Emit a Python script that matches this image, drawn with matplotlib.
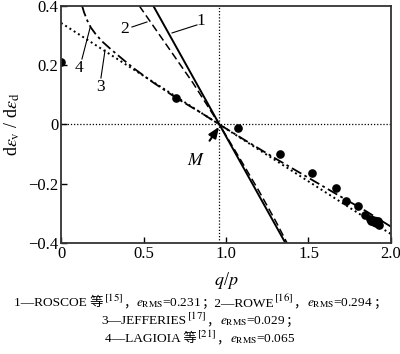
import matplotlib
matplotlib.use("Agg")
import matplotlib.pyplot as plt
from matplotlib.offsetbox import TextArea, HPacker, AnchoredOffsetbox

plt.rcParams['font.family'] = ['Liberation Serif', 'Noto Sans CJK SC']
plt.rcParams['mathtext.fontset'] = 'stix'

M = 0.96

# 1 - Roscoe
roscoe_q = [0.56, 1.36]
roscoe_d = [0.40, -0.40]
# 2 - Rowe
rowe_q = [0.475, 0.60, 0.70, 0.80, 0.96, 1.10, 1.20, 1.30, 1.37]
rowe_d = [0.40, 0.30, 0.22, 0.14, 0.0, -0.13, -0.225, -0.325, -0.40]
# 3 - Jefferies
jeff_q = [0.0, 0.96, 2.0]
jeff_d = [0.343, 0.0, -0.37]
# 4 - Lagioia
lag_q = [0.128, 0.14, 0.16, 0.18, 0.21, 0.25, 0.30, 0.37, 0.44, 0.55, 0.70,
         0.85, 0.96, 1.10, 1.30, 1.50, 1.70, 1.85, 2.0]
lag_d = [0.40, 0.378, 0.35, 0.328, 0.305, 0.28, 0.255, 0.222, 0.19, 0.145,
         0.089, 0.039, 0.0, -0.048, -0.115, -0.18, -0.245, -0.293, -0.345]
# test data
exp_q = [0.0, 0.70, 1.07, 1.33, 1.52, 1.665, 1.726, 1.80, 1.84, 1.87, 1.88,
         1.89, 1.90, 1.91, 1.92, 1.93]
exp_d = [0.21, 0.089, -0.013, -0.10, -0.164, -0.214, -0.258, -0.275, -0.306,
         -0.318, -0.325, -0.322, -0.33, -0.333, -0.325, -0.34]

fig = plt.figure(figsize=(4.0, 3.54), dpi=100)
ax = fig.add_axes([0.1525, 0.3136, 0.825, 0.6695])

ax.axhline(0, color='k', ls=(0, (1, 1.5)), lw=0.9)
ax.axvline(M, color='k', ls=(0, (1, 1.5)), lw=0.9)

ax.plot(roscoe_q, roscoe_d, color='k', lw=1.4)
ax.plot(rowe_q, rowe_d, color='k', lw=1.1, ls=(0, (5, 2.5)))
ax.plot(jeff_q, jeff_d, color='k', lw=1.4, ls=(0, (1, 1.6)))
ax.plot(lag_q, lag_d, color='k', lw=1.3, ls=(0, (6, 2, 1.5, 2)))
ax.plot(exp_q, exp_d, 'o', color='k', ms=5.2)

# curve labels with leader lines
lbl = dict(fontsize=12.5, ha='center', va='center')
ax.text(0.85, 0.348, '1', **lbl)
ax.plot([0.673, 0.824], [0.309, 0.336], color='k', lw=0.8)
ax.text(0.385, 0.322, '2', **lbl)
ax.plot([0.430, 0.521], [0.329, 0.346], color='k', lw=0.8)
ax.text(0.109, 0.192, '4', **lbl)
ax.plot([0.127, 0.176], [0.221, 0.326], color='k', lw=0.8)
ax.text(0.242, 0.125, '3', **lbl)
ax.plot([0.242, 0.267], [0.157, 0.251], color='k', lw=0.8)

ax.annotate('$M$', xy=(0.958, -0.008), xytext=(0.82, -0.12),
            fontsize=13, ha='center', va='center',
            arrowprops=dict(arrowstyle='-|>,head_length=0.5,head_width=0.2',
                            color='k', lw=1.5, shrinkA=7, shrinkB=0))

ax.set_xlim(0, 2.0)
ax.set_ylim(-0.4, 0.4)
ax.set_xticks([0, 0.5, 1.0, 1.5, 2.0])
ax.set_xticklabels(['0', '0.5', '1.0', '1.5', '2.0'])
ax.set_yticks([-0.4, -0.2, 0, 0.2, 0.4])
ax.set_yticklabels(['\u22120.4', '\u22120.2', '0', '0.2', '0.4'])
ax.tick_params(direction='in', length=4, width=1, labelsize=12, pad=2)
for s in ax.spines.values():
    s.set_linewidth(1.3)
    s.set_color('#333333')

ax.set_xlabel('$q$/$p$', fontsize=13, labelpad=6)
ax.set_ylabel(r'd$\varepsilon_{\rm v}$ / d$\varepsilon_{\rm d}$', fontsize=13, labelpad=4)

# caption
fs = 9.6
plain = dict(fontsize=fs, family=['Liberation Serif', 'Noto Sans CJK SC'])
math = dict(fontsize=fs, family='Liberation Serif')
sup = dict(fontsize=fs * 1.15, family='Liberation Serif')
caption = [
    [("1\u2014ROSCOE \u7b49", plain), ("$^{[15]}$", sup), ("\uff0c", plain),
     (r"$e_{\rm RMS}$=0.231", math), ("\uff1b2\u2014ROWE", plain), ("$^{[16]}$", sup),
     ("\uff0c", plain), (r"$e_{\rm RMS}$=0.294", math), ("\uff1b", plain)],
    [("3\u2014JEFFERIES", plain), ("$^{[17]}$", sup), ("\uff0c", plain),
     (r"$e_{\rm RMS}$=0.029", math), ("\uff1b", plain)],
    [("4\u2014LAGIOIA \u7b49", plain), ("$^{[21]}$", sup), ("\uff0c", plain),
     (r"$e_{\rm RMS}$=0.065", math)],
]
ys = [303, 321, 339]
for parts, y in zip(caption, ys):
    box = HPacker(children=[TextArea(t, textprops=p) for t, p in parts],
                  align='baseline', pad=0, sep=0)
    ab = AnchoredOffsetbox(loc='center', child=box, frameon=False, pad=0,
                           borderpad=0, bbox_to_anchor=(0.5, 1 - y / 354),
                           bbox_transform=fig.transFigure)
    fig.add_artist(ab)

fig.savefig('out.png', dpi=100)
